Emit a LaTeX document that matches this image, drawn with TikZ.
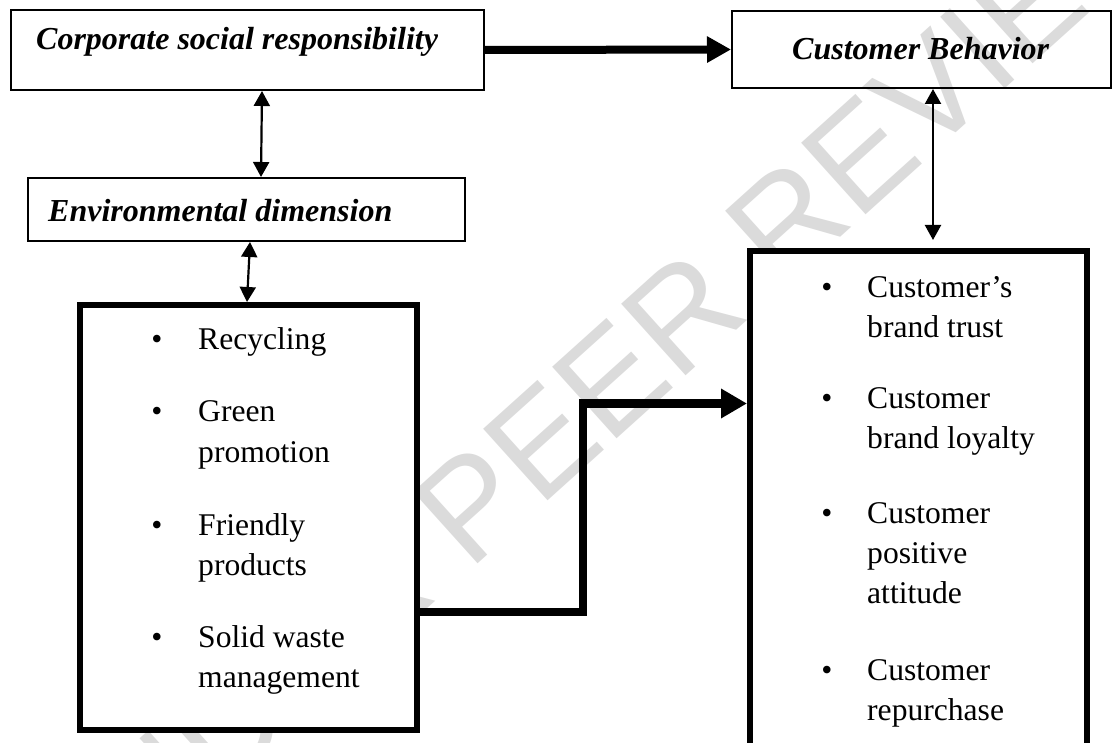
\documentclass[tikz,border=0pt]{standalone}
\usepackage{fontspec}
\setmainfont{Liberation Serif}
\newfontfamily\wmfont{Liberation Sans}
\usetikzlibrary{arrows.meta}
\tikzset{
  thinbox/.style={draw, line width=2pt, inner sep=0pt, rectangle},
  thickbox/.style={draw, fill=white, line width=6pt, inner sep=0pt, rectangle},
  titletext/.style={inner sep=0pt, anchor=base west, font=\fontsize{32}{38}\selectfont\bfseries\itshape},
  itemtext/.style={inner sep=0pt, anchor=base west, font=\fontsize{31.6}{40}\selectfont},
  bullettext/.style={inner sep=0pt, anchor=base, font=\fontsize{31.6}{40}\selectfont},
  dblarrow/.style={line width=2.2pt, {Triangle[length=15pt,width=16pt]}-{Triangle[length=15pt,width=16pt]}},
  bigarrow/.style={line width=8.5pt, line join=miter, -{Triangle[length=26pt,width=28pt]}},
  toparrow/.style={line width=8pt, -{Triangle[length=24pt,width=25pt]}},
  watermark/.style={inner sep=0pt, text=black!14, rotate=42, font=\fontsize{140}{140}\selectfont\wmfont}
}
\begin{document}
\begin{tikzpicture}[x=1pt,y=-1pt]
\useasboundingbox (0,0) rectangle (1112,743);
% watermark
\node[watermark] (wm) at (600,390) {UNDER PEER REVIEW};
% boxes
\node[thinbox, minimum width=473pt, minimum height=80pt] (csr) at (247.5,50) {};
\node[thinbox, minimum width=379pt, minimum height=77pt] (cb) at (921.5,49.5) {};
\node[thinbox, minimum width=437pt, minimum height=63pt] (env) at (246.5,209.5) {};
\node[thickbox, minimum width=337pt, minimum height=425pt] (lb) at (248.5,517.5) {};
\node[thickbox, minimum width=337pt, minimum height=540pt] (rb) at (918.5,521) {};
% titles
\node[titletext] (csrt) at (36,50) {Corporate social responsibility};
\node[titletext] (cbt) at (792,60) {Customer Behavior};
\node[titletext] (envt) at (48,222) {Environmental dimension};
% left items
\node[bullettext] (lb1) at (157,350) {•};
\node[itemtext] (li1) at (198,350) {Recycling};
\node[bullettext] (lb2) at (157,422) {•};
\node[itemtext] (li2) at (198,422) {\vtop{\hbox{Green}\hbox{promotion}}};
\node[bullettext] (lb3) at (157,535) {•};
\node[itemtext] (li3) at (198,535) {\vtop{\hbox{Friendly}\hbox{products}}};
\node[bullettext] (lb4) at (157,647) {•};
\node[itemtext] (li4) at (198,647) {\vtop{\hbox{Solid waste}\hbox{management}}};
% right items
\node[bullettext] (rb1) at (827,298) {•};
\node[itemtext] (ri1) at (867,298) {\vtop{\hbox{Customer’s}\hbox{brand trust}}};
\node[bullettext] (rb2) at (827,409) {•};
\node[itemtext] (ri2) at (867,409) {\vtop{\hbox{Customer}\hbox{brand loyalty}}};
\node[bullettext] (rb3) at (827,523) {•};
\node[itemtext] (ri3) at (867,523) {\vtop{\hbox{Customer}\hbox{positive}\hbox{attitude}}};
\node[bullettext] (rb4) at (827,680) {•};
\node[itemtext] (ri4) at (867,680) {\vtop{\hbox{Customer}\hbox{repurchase}}};
% connectors
\draw[toparrow] (csr.east) -- (cb.west);
\draw[dblarrow] ([xshift=14.5pt]csr.south) -- ([xshift=14.5pt]env.north);
\draw[dblarrow, shorten >=8pt] ([xshift=11.5pt]cb.south) -- ([xshift=14.5pt]rb.north);
\draw[dblarrow] ([xshift=3.5pt]env.south) -- ([xshift=-1.5pt]lb.north);
\coordinate (s1) at (583,612);
\coordinate (s2) at (583,403.5);
\draw[bigarrow] (lb.east |- s1) -- (s1) -- (s2) -- (rb.west |- s2);
\end{tikzpicture}
\end{document}
